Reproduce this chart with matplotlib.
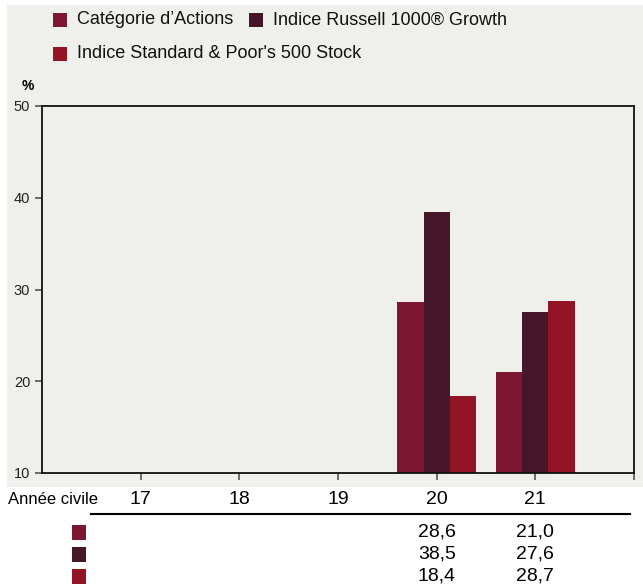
import numpy as np
import matplotlib.pyplot as plt
import matplotlib.transforms as mtransforms
from matplotlib.patches import Rectangle

plt.rcParams['font.family'] = ['Liberation Sans Narrow', 'Liberation Sans', 'DejaVu Sans']

# Données
years = ['17', '18', '19', '20', '21']
series = ["Catégorie d\u2019Actions", 'Indice Russell 1000® Growth',
          "Indice Standard & Poor's 500 Stock"]
categorie = [np.nan, np.nan, np.nan, 28.6, 21.0]
russell = [np.nan, np.nan, np.nan, 38.5, 27.6]
sp500 = [np.nan, np.nan, np.nan, 18.4, 28.7]
colors = ['#7d1731', '#451728', '#931425']
yticks = [10, 20, 30, 40, 50]

fig = plt.figure(figsize=(6.43, 5.88), dpi=100)
bg = '#efefeb'
fig.patches.append(Rectangle((7 / 643, 1 - 487 / 588), 1 - 7 / 643, 482 / 588,
                             transform=fig.transFigure, facecolor=bg,
                             edgecolor='none', zorder=-5))

ax = fig.add_axes([42 / 643, 1 - 473 / 588, 592 / 643, 367 / 588])
ax.set_facecolor(bg)

x = np.arange(1, len(years) + 1)
w = 0.265
for i, vals in enumerate([categorie, russell, sp500]):
    v = np.array(vals)
    ax.bar(x + (i - 1) * w, v - 10, bottom=10, width=w, color=colors[i], zorder=2)

ax.set_xlim(0, 6)
ax.set_ylim(10, 50)
ax.set_xticks([1, 2, 3, 4, 5, 6])
ax.set_xticklabels([])
ax.set_yticks(yticks)
ax.set_yticklabels([str(t) for t in yticks], fontsize=10.5, color='#222222')
ax.tick_params(axis='both', direction='out', length=5, width=1.2, color='#555555')
for s in ax.spines.values():
    s.set_linewidth(1.3)
    s.set_color('#111111')

fig.text(22 / 643, 1 - 86 / 588, '%', fontsize=10, fontweight='bold', va='center')

# Légende
leg_pos = [(53, 20), (249, 20), (53, 54)]
for (lx, ly), name, c in zip(leg_pos, series, colors):
    fig.patches.append(Rectangle((lx / 643, 1 - (ly + 7) / 588), 14 / 643, 14 / 588,
                                 transform=fig.transFigure, facecolor=c,
                                 edgecolor='none', zorder=3))
    fig.text((lx + 24) / 643, 1 - ly / 588, name, fontsize=13, va='center',
             color='#111111')

# Tableau
trans = mtransforms.blended_transform_factory(ax.transData, fig.transFigure)
fig.text(8 / 643, 1 - 499 / 588, 'Année civile', fontsize=12, va='center')
for xi, yr in zip(x, years):
    ax.text(xi, 1 - 499 / 588, yr, transform=trans, fontsize=14, ha='center', va='center')
fig.add_artist(plt.Line2D([91 / 643, 630 / 643], [1 - 514 / 588, 1 - 514 / 588],
                          transform=fig.transFigure, color='black', lw=1.5))
row_y = [532, 554, 576]
for ry, vals, c in zip(row_y, [categorie, russell, sp500], colors):
    fig.patches.append(Rectangle((72 / 643, 1 - (ry + 8) / 588), 14 / 643, 15 / 588,
                                 transform=fig.transFigure, facecolor=c,
                                 edgecolor='none'))
    for xi, v in zip(x, vals):
        if not np.isnan(v):
            ax.text(xi, 1 - ry / 588, f'{v:.1f}'.replace('.', ','), transform=trans,
                    fontsize=14, ha='center', va='center')

fig.savefig('out.png', dpi=100)
